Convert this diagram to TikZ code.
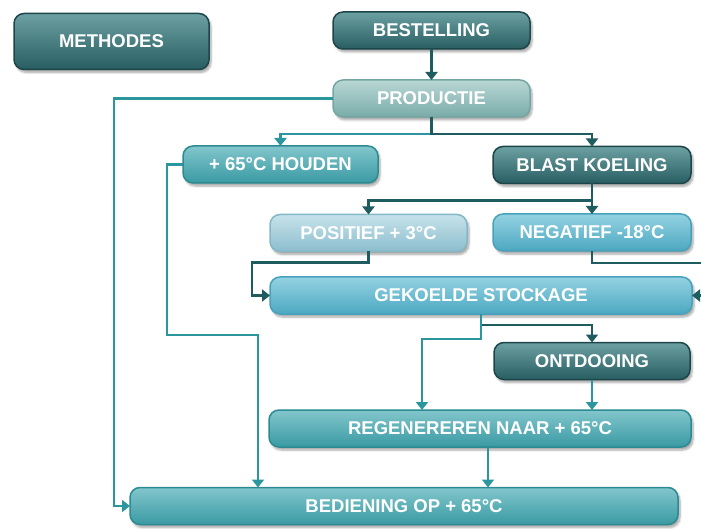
\documentclass[tikz,border=0pt]{standalone}
\usepackage{fontspec}
\setmainfont{Liberation Sans}
\usetikzlibrary{arrows.meta,shadows.blur}
\definecolor{darkline}{HTML}{1F5C60}
\definecolor{tealline}{HTML}{2C969E}
\definecolor{darktop}{RGB}{108,160,162}
\definecolor{darkbot}{RGB}{40,94,98}
\definecolor{darkrim}{RGB}{28,70,73}
\definecolor{greytop}{RGB}{184,214,212}
\definecolor{greybot}{RGB}{122,172,170}
\definecolor{greyrim}{RGB}{116,166,164}
\definecolor{tealtop}{RGB}{130,198,204}
\definecolor{tealbot}{RGB}{58,154,163}
\definecolor{tealrim}{RGB}{44,138,147}
\definecolor{paletop}{RGB}{198,226,234}
\definecolor{palebot}{RGB}{140,190,205}
\definecolor{palerim}{RGB}{132,184,199}
\definecolor{bluetop}{RGB}{148,210,226}
\definecolor{bluebot}{RGB}{76,168,193}
\definecolor{bluerim}{RGB}{70,162,187}
\tikzset{
  >={Triangle[width=12pt,length=8pt]},
}
\tikzstyle{box}=[rectangle,rounded corners=10pt,minimum height=37pt,line width=1.5pt,
  outer sep=0pt,text=white,font=\fontsize{18.5}{20}\selectfont\bfseries,
  blur shadow={shadow xshift=2pt,shadow yshift=-3pt,shadow opacity=35,shadow blur steps=6}]
\tikzstyle{darkbox}=[box,top color=darktop,bottom color=darkbot,draw=darkrim]
\tikzstyle{greybox}=[box,top color=greytop,bottom color=greybot,draw=greyrim]
\tikzstyle{tealbox}=[box,top color=tealtop,bottom color=tealbot,draw=tealrim]
\tikzstyle{palebox}=[box,top color=paletop,bottom color=palebot,draw=palerim]
\tikzstyle{bluebox}=[box,top color=bluetop,bottom color=bluebot,draw=bluerim]
\tikzstyle{dkline}=[draw=darkline,line width=2.6pt]
\tikzstyle{tlline}=[draw=tealline,line width=2.6pt]

\begin{document}
\begin{tikzpicture}[x=1pt,y=-1pt]
    \useasboundingbox (0,0) rectangle (701,529);
    \clip (0,0) rectangle (701,529);
    \node[darkbox,minimum width=195pt,minimum height=56pt] (methodes) at (111.5,41.5) {METHODES};
    \node[darkbox,minimum width=197pt] (bestelling) at (431.5,30.5) {BESTELLING};
    \node[greybox,minimum width=197pt] (productie) at (431.5,98.5) {PRODUCTIE};
    \node[tealbox,minimum width=195pt] (houden) at (280.5,164.5) {+ 65°C HOUDEN};
    \node[darkbox,minimum width=198pt] (blast) at (592,165) {BLAST KOELING};
    \node[palebox,minimum width=197pt] (positief) at (368.5,233) {POSITIEF + 3°C};
    \node[bluebox,minimum width=198pt] (negatief) at (592,232.5) {NEGATIEF -18°C};
    \node[bluebox,minimum width=422pt] (gekoeld) at (481,295.5) {GEKOELDE STOCKAGE};
    \node[darkbox,minimum width=196pt] (ontdooing) at (592,361) {ONTDOOING};
    \node[tealbox,minimum width=422pt] (regen) at (480,428.5) {REGENEREREN NAAR + 65°C};
    \node[tealbox,minimum width=548pt] (bediening) at (404,506) {BEDIENING OP + 65°C};
    \coordinate (rail) at (114,0);
    \coordinate (hdrop) at (167,335);

    \draw[dkline,->] (bestelling.south) -- (productie.north);
    \draw[tlline,->] (productie.west) -| (rail |- bediening.west) -- (bediening.west);
    \draw[tlline,->] (productie.south) -- ++(0,17) -| (houden.north);
    \draw[dkline,->] (productie.south) -- ++(0,17) -| (blast.north);
    \draw[dkline,->] (blast.south) -- ++(0,17) -| (positief.north);
    \draw[dkline,->] (blast.south) -- (negatief.north);
    \draw[dkline,->] (positief.south) -- ++(0,11) -| ([xshift=-18pt]gekoeld.west) -- (gekoeld.west);
    \draw[dkline,->] (negatief.south) -- ++(0,12) -| ([xshift=14pt]gekoeld.east) -- (gekoeld.east);
    \draw[tlline,->] (houden.west) -| (hdrop) -| ([xshift=-146pt]bediening.north);
    \draw[dkline,->] (gekoeld.south) -- ++(0,11) -| (ontdooing.north);
    \draw[tlline,->] (gekoeld.south) -- ++(0,25) -| ([xshift=-58pt]regen.north);
    \draw[tlline,->] (ontdooing.south) -- (ontdooing.south |- regen.north);
    \draw[tlline,->] ([xshift=8pt]regen.south) -- ([xshift=8pt]regen.south |- bediening.north);
  \end{tikzpicture}
\end{document}
